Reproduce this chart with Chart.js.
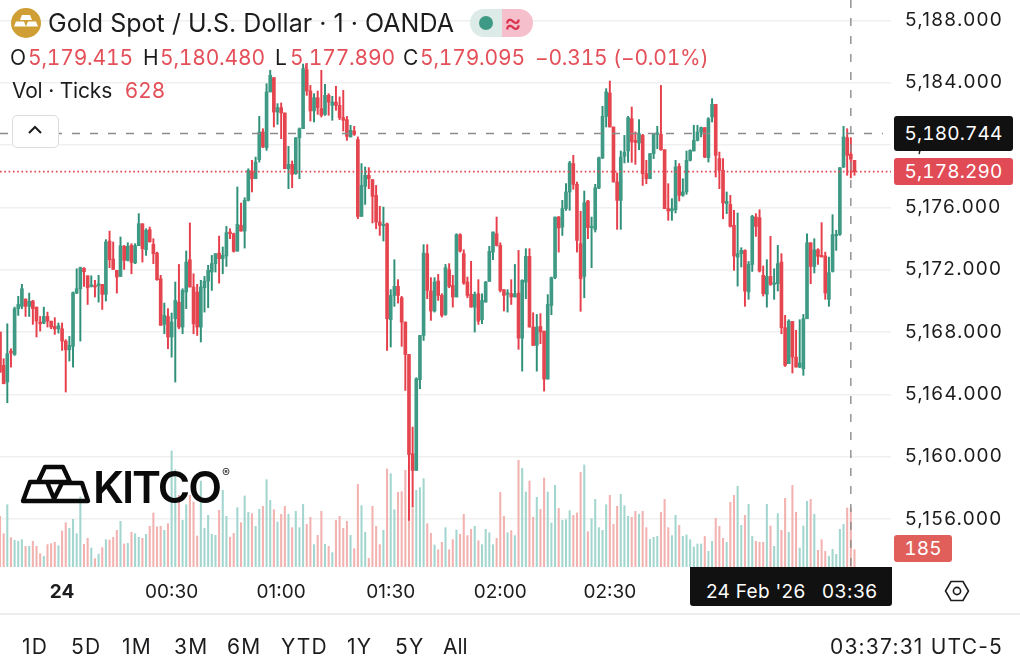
<!DOCTYPE html>
<html>
<head>
<meta charset="utf-8">
<title>Gold Spot / U.S. Dollar</title>
<script src="https://cdn.jsdelivr.net/npm/chart.js@4/dist/chart.umd.min.js"></script>
<style>
  html, body { margin: 0; padding: 0; background: #fff; }
  body { width: 1020px; height: 670px; overflow: hidden; position: relative; font-family: Inter, "Noto Sans", sans-serif; color: #1c1c1f; }
  canvas { position: absolute; left: 0; top: 0; }
  .t { position: absolute; white-space: nowrap; line-height: 1; }
  .ohlc { font-size: 21px; top: 47px; letter-spacing: -0.2px; font-variant-numeric: tabular-nums; }
  .red { color: #e4505a; }
  .pill { position: absolute; border-radius: 3px; color: #fff; font-size: 19px; letter-spacing: 0.2px; font-variant-numeric: tabular-nums; display: flex; align-items: center; justify-content: center; }
  svg { position: absolute; overflow: visible; }
  .range { position: absolute; top: 636px; font-size: 21px; line-height: 1; letter-spacing: 1.2px; }
</style>
</head>
<body>
<canvas id="chart" width="1020" height="670"></canvas>

<svg style="left:0;top:0" width="60" height="46">
  <circle cx="26" cy="23" r="15" fill="#cf9f35"/>
  <path d="M22 15h8l2 5h-12z M16 21.5h8l2 5h-12z M28 21.5h8l2 5h-12z" fill="#fff"/>
</svg>
<div class="t" style="left:48px;top:11px;font-size:25px;letter-spacing:0.03px">Gold Spot / U.S. Dollar · 1 · OANDA</div>
<div style="position:absolute;left:470px;top:9px;width:32px;height:28px;background:#dcebe7;border-radius:14px 0 0 14px"></div>
<div style="position:absolute;left:502px;top:9px;width:31px;height:28px;background:#f5c0cc;border-radius:0 14px 14px 0"></div>
<div style="position:absolute;left:479px;top:16px;width:14px;height:14px;background:#3f9a85;border-radius:50%"></div>
<div class="t" style="left:504px;top:9px;font-size:27px;color:#d8344e">≈</div>

<div class="t ohlc" style="left:10px">O</div>
<div class="t ohlc red" style="left:28px">5,179.415</div>
<div class="t ohlc" style="left:143px">H</div>
<div class="t ohlc red" style="left:160px">5,180.480</div>
<div class="t ohlc" style="left:275px">L</div>
<div class="t ohlc red" style="left:290px">5,177.890</div>
<div class="t ohlc" style="left:403px">C</div>
<div class="t ohlc red" style="left:420px">5,179.095</div>
<div class="t ohlc red" style="left:535px">−0.315 (−0.01%)</div>
<div class="t" style="left:12px;top:80px;font-size:21px;letter-spacing:-0.2px">Vol · Ticks</div>
<div class="t red" style="left:125px;top:80px;font-size:21px;letter-spacing:0.6px">628</div>

<div style="position:absolute;left:12px;top:115px;width:45px;height:31px;border:1px solid #dcdcdc;border-radius:5px;background:#fff"></div>
<svg style="left:28px;top:125px" width="16" height="10"><polyline points="1,8 7,2 13,8" fill="none" stroke="#1c1c1f" stroke-width="2"/></svg>

<svg style="left:0;top:0" width="240" height="520">
  <path d="M45 467H63L70 482H38Z M30 482H47L55 501H23Z M62 483H82L88 501H53Z" fill="none" stroke="#0a0a0a" stroke-width="4.4" stroke-linejoin="round"/>
</svg>
<div class="t" style="left:93px;top:465px;font-size:44px;font-weight:600;color:#0a0a0a;letter-spacing:-2px">KITCO</div>
<div class="t" style="left:222px;top:467px;font-size:12px;color:#222">®</div>

<div class="pill" style="left:894px;top:116px;width:119px;height:35px;background:#111">5,180.744</div>
<div class="pill" style="left:894px;top:158px;width:119px;height:27px;background:#e14b55">5,178.290</div>
<div class="pill" style="left:894px;top:535px;width:58px;height:27px;background:#e05f5b">185</div>

<div style="position:absolute;left:690px;top:567px;width:202px;height:39px;background:#111;border-radius:0 0 3px 3px"></div>
<div class="t" style="left:706px;top:582px;font-size:19px;color:#fff;letter-spacing:0.3px">24 Feb '26</div>
<div class="t" style="left:822px;top:582px;font-size:19px;color:#fff;letter-spacing:0.6px">03:36</div>

<svg style="left:945px;top:580px" width="24" height="22">
  <polygon points="6,1.5 18,1.5 23.5,11 18,20.5 6,20.5 0.5,11" fill="none" stroke="#1c1c1f" stroke-width="1.6"/>
  <circle cx="12" cy="11" r="3.6" fill="none" stroke="#1c1c1f" stroke-width="1.6"/>
</svg>

<div style="position:absolute;left:0;top:613px;width:1020px;height:2px;background:#ececec"></div>
<div class="range" style="left:22px">1D</div>
<div class="range" style="left:71px">5D</div>
<div class="range" style="left:122px">1M</div>
<div class="range" style="left:174px">3M</div>
<div class="range" style="left:227px">6M</div>
<div class="range" style="left:281px">YTD</div>
<div class="range" style="left:347px">1Y</div>
<div class="range" style="left:395px">5Y</div>
<div class="range" style="left:443px;letter-spacing:0">All</div>
<div class="range" style="left:830px">03:37:31 UTC-5</div>

<script>
// one candle per minute, minute 0 is 00:00 on the 24th
const firstMinute = -17;
const slotCount = 245;

const opens = [
  5168.00,5165.86,5164.79,5166.78,5166.56,5169.50,5169.65,5170.12,5169.65,5169.99,
  5169.60,5168.64,5168.58,5169.00,5168.70,5168.36,5168.21,5168.21,5167.42,5166.86,
  5167.08,5170.50,5170.78,5172.09,5171.61,5170.93,5170.97,5170.97,5171.06,5170.42,
  5173.84,5172.68,5171.96,5171.57,5173.50,5172.60,5173.56,5172.43,5173.54,5174.95,
  5173.28,5174.57,5173.63,5173.07,5171.42,5168.49,5169.00,5167.68,5168.85,5169.92,
  5168.32,5170.57,5172.64,5170.89,5170.57,5168.32,5170.84,5171.27,5171.85,5172.39,
  5173.07,5172.71,5172.88,5174.42,5174.31,5173.20,5174.85,5174.48,5176.45,5178.33,
  5177.84,5179.06,5180.84,5179.83,5183.41,5184.33,5182.12,5182.40,5182.06,5178.48,
  5178.76,5178.16,5180.47,5181.05,5184.84,5183.47,5182.19,5183.04,5182.34,5181.97,
  5183.19,5182.55,5182.76,5182.55,5181.76,5181.63,5180.52,5180.90,5180.35,5175.42,
  5177.35,5178.06,5177.78,5176.77,5175.06,5174.82,5174.95,5168.79,5170.35,5170.93,
  5170.20,5168.64,5166.56,5160.19,5159.12,5164.94,5167.78,5173.03,5170.63,5169.35,
  5171.27,5170.35,5169.13,5172.00,5170.99,5170.25,5174.25,5173.03,5171.21,5170.42,
  5169.60,5170.46,5168.79,5169.92,5171.25,5173.13,5174.31,5173.56,5170.72,5170.42,
  5170.46,5170.25,5170.50,5167.61,5171.21,5172.86,5168.32,5167.14,5168.36,5168.06,
  5164.98,5169.71,5171.49,5175.38,5174.74,5175.92,5176.99,5178.81,5177.48,5173.67,
  5171.57,5176.41,5174.70,5174.59,5177.24,5179.17,5181.84,5183.34,5181.16,5177.63,
  5176.45,5179.28,5179.62,5181.69,5180.30,5180.13,5180.62,5178.16,5177.84,5179.45,
  5180.69,5180.69,5179.70,5175.92,5175.77,5175.85,5178.63,5176.77,5176.99,5179.02,
  5179.62,5180.30,5180.84,5181.12,5179.19,5181.80,5182.61,5179.13,5178.38,5176.24,
  5176.19,5174.85,5172.81,5173.03,5173.24,5170.57,5172.34,5175.38,5175.34,5171.64,
  5170.42,5171.57,5171.06,5171.10,5172.49,5168.28,5165.97,5168.68,5166.39,5165.75,
  5165.64,5168.85,5173.73,5172.21,5173.28,5172.92,5172.88,5170.10,5171.89,5174.18,
  5174.27,5178.59,5180.47,5179.415,5179.02
];
const highs = [
  5168.00,5166.29,5168.53,5166.93,5169.60,5170.29,5171.06,5170.12,5170.50,5170.03,
  5169.60,5169.00,5169.60,5169.28,5168.70,5168.92,5168.58,5168.58,5167.51,5167.72,
  5170.57,5172.06,5172.17,5172.13,5171.61,5171.61,5171.32,5171.64,5171.06,5173.93,
  5174.48,5173.78,5171.96,5174.10,5173.56,5173.73,5173.67,5173.67,5175.60,5174.95,
  5174.63,5174.74,5173.99,5173.13,5171.64,5169.86,5169.50,5169.22,5171.21,5172.34,
  5170.78,5173.20,5175.00,5171.74,5171.06,5171.32,5171.57,5172.28,5172.92,5173.03,
  5174.16,5173.46,5174.78,5174.63,5174.35,5177.31,5176.28,5176.62,5178.48,5179.02,
  5179.23,5181.84,5181.05,5183.94,5184.80,5184.33,5182.66,5182.70,5182.06,5179.92,
  5178.98,5180.47,5181.10,5185.20,5185.23,5183.83,5183.30,5183.47,5184.80,5183.90,
  5183.30,5183.13,5183.77,5183.09,5183.51,5181.84,5181.27,5181.20,5180.52,5178.81,
  5178.59,5178.55,5177.78,5177.41,5176.07,5176.02,5175.00,5170.72,5172.64,5171.36,
  5170.29,5168.64,5166.56,5161.90,5165.07,5167.78,5173.61,5173.61,5171.49,5171.49,
  5171.70,5170.46,5172.34,5172.39,5171.64,5174.31,5174.31,5173.28,5171.53,5172.54,
  5170.57,5171.36,5170.46,5171.25,5173.50,5174.42,5175.38,5173.73,5170.72,5170.72,
  5171.36,5172.34,5173.24,5171.36,5173.35,5173.35,5169.24,5169.13,5169.18,5168.06,
  5170.40,5171.53,5175.38,5175.42,5176.45,5177.52,5178.96,5179.34,5177.63,5175.75,
  5177.05,5176.45,5175.38,5177.48,5179.23,5182.49,5183.62,5184.11,5181.16,5178.21,
  5179.62,5180.62,5181.84,5182.44,5180.84,5181.63,5180.69,5179.02,5179.45,5180.73,
  5181.20,5183.83,5179.70,5177.52,5176.56,5179.02,5178.81,5177.84,5179.62,5179.70,
  5181.27,5181.27,5181.16,5181.12,5181.76,5182.98,5182.61,5179.55,5179.13,5176.99,
  5176.77,5175.81,5175.64,5173.41,5173.28,5172.53,5175.49,5175.60,5175.85,5172.24,
  5172.64,5174.14,5172.06,5173.56,5173.03,5169.07,5168.79,5168.68,5168.11,5168.79,
  5169.13,5174.31,5173.73,5173.99,5173.35,5175.02,5173.13,5172.81,5175.53,5174.53,
  5178.55,5181.20,5181.05,5180.48,5179.02
];
const lows = [
  5165.43,5164.68,5163.46,5165.75,5166.50,5169.07,5169.50,5169.00,5169.00,5168.49,
  5167.68,5168.06,5168.53,5168.32,5168.21,5167.85,5167.93,5166.82,5164.15,5166.14,
  5165.75,5170.46,5167.42,5170.93,5169.77,5170.89,5170.25,5169.92,5169.45,5169.99,
  5172.13,5172.02,5170.50,5171.57,5172.02,5172.56,5171.74,5172.39,5173.54,5172.49,
  5172.92,5173.78,5172.39,5171.32,5168.43,5167.89,5166.93,5166.39,5164.79,5168.21,
  5167.89,5169.50,5170.89,5167.89,5167.78,5167.36,5169.28,5169.56,5170.67,5171.85,
  5171.14,5171.74,5172.21,5173.99,5173.13,5173.18,5174.48,5173.39,5176.41,5176.99,
  5177.84,5178.91,5179.83,5179.66,5183.41,5181.16,5181.33,5180.41,5178.48,5177.20,
  5177.26,5178.12,5177.84,5181.05,5183.19,5181.54,5181.48,5181.97,5181.80,5181.91,
  5181.91,5181.59,5182.23,5181.63,5180.90,5180.30,5180.52,5180.62,5175.27,5175.42,
  5176.19,5177.20,5175.00,5174.63,5174.20,5173.84,5166.82,5167.04,5169.65,5169.86,
  5167.08,5164.25,5155.91,5156.76,5159.12,5164.36,5167.46,5170.14,5168.75,5169.28,
  5170.03,5168.96,5169.07,5170.84,5169.60,5170.25,5173.13,5171.06,5170.20,5169.60,
  5168.00,5168.49,5168.53,5169.92,5171.25,5172.64,5173.52,5170.57,5169.35,5169.28,
  5169.77,5170.25,5166.89,5165.49,5170.14,5168.32,5167.14,5165.49,5167.25,5164.21,
  5164.98,5169.11,5171.42,5173.13,5174.20,5175.81,5175.81,5177.16,5173.13,5169.33,
  5170.20,5173.99,5172.13,5174.42,5177.20,5179.13,5181.16,5181.16,5177.63,5174.59,
  5174.59,5178.85,5178.89,5178.89,5178.76,5179.70,5177.41,5177.52,5177.84,5179.13,
  5179.77,5179.66,5175.92,5175.17,5175.17,5175.64,5176.41,5176.71,5176.84,5178.98,
  5179.62,5180.26,5180.52,5179.19,5178.91,5181.48,5177.95,5177.20,5175.27,5175.60,
  5174.74,5171.96,5170.95,5172.17,5169.65,5170.10,5171.89,5174.14,5171.85,5170.31,
  5169.60,5170.99,5170.10,5170.63,5167.89,5165.79,5165.97,5165.37,5165.75,5165.71,
  5165.22,5168.85,5171.10,5171.79,5172.34,5172.86,5170.10,5169.65,5171.85,5173.24,
  5174.20,5178.55,5178.06,5177.89,5178.06
];
const closes = [
  5165.43,5164.68,5166.61,5166.65,5169.50,5169.77,5170.78,5169.65,5169.97,5169.50,
  5168.70,5168.53,5169.00,5168.70,5168.32,5168.19,5168.40,5167.42,5166.86,5167.14,
  5170.53,5170.78,5172.13,5171.87,5170.84,5170.99,5170.89,5171.10,5170.42,5173.78,
  5172.64,5172.02,5171.53,5173.54,5172.60,5173.50,5172.47,5173.54,5174.95,5173.35,
  5174.53,5173.78,5173.03,5171.36,5168.43,5169.07,5167.68,5168.64,5170.03,5168.32,
  5170.67,5172.49,5170.89,5168.53,5168.32,5170.89,5171.27,5171.96,5172.39,5173.03,
  5172.71,5172.92,5174.38,5174.31,5173.18,5174.91,5174.48,5176.45,5178.38,5177.84,
  5178.91,5180.84,5179.88,5183.41,5184.48,5182.12,5182.40,5182.06,5178.48,5178.76,
  5178.12,5180.47,5181.05,5184.90,5183.47,5182.19,5183.04,5182.40,5181.91,5183.19,
  5182.76,5182.76,5182.55,5181.76,5181.59,5180.56,5180.95,5180.69,5175.42,5177.41,
  5178.06,5177.84,5176.71,5175.06,5174.85,5174.91,5168.85,5170.35,5170.93,5170.35,
  5168.64,5166.56,5160.14,5159.12,5165.00,5167.78,5173.07,5170.67,5169.35,5171.21,
  5170.35,5169.07,5172.13,5170.93,5170.25,5174.25,5173.20,5171.14,5170.35,5169.60,
  5170.42,5168.70,5170.03,5171.21,5173.18,5174.42,5173.56,5170.67,5170.35,5170.46,
  5170.25,5170.46,5167.61,5171.32,5172.86,5168.32,5167.14,5168.32,5168.00,5164.98,
  5169.77,5171.49,5175.38,5174.68,5175.92,5176.99,5178.85,5177.48,5173.88,5171.42,
  5176.30,5174.70,5174.74,5177.26,5179.19,5181.84,5183.41,5181.16,5177.63,5176.45,
  5179.23,5179.55,5181.76,5180.20,5180.17,5180.73,5178.16,5177.84,5179.45,5180.69,
  5180.77,5179.70,5175.92,5175.77,5175.92,5178.59,5176.77,5176.99,5179.02,5179.66,
  5180.30,5180.84,5181.12,5179.23,5181.69,5182.61,5179.34,5178.38,5176.28,5176.39,
  5174.78,5172.88,5173.03,5173.24,5170.63,5172.34,5175.42,5174.78,5171.91,5170.46,
  5171.57,5171.06,5171.14,5172.39,5168.28,5165.86,5168.70,5166.39,5165.75,5166.01,
  5168.85,5173.73,5172.21,5173.28,5172.86,5172.81,5170.50,5171.81,5174.25,5174.27,
  5178.55,5180.52,5179.34,5179.095,5178.29
];
const volumes = [
  539,355,663,312,284,273,291,220,220,273,
  220,142,114,238,248,263,227,383,472,412,
  507,355,745,241,305,202,89,138,206,291,
  287,316,390,486,245,252,369,355,316,305,
  348,433,575,426,433,390,461,1235,1036,763,
  497,663,763,692,330,915,412,550,348,337,
  603,816,539,316,358,632,472,756,582,568,
  433,614,646,930,710,610,479,561,646,561,
  419,593,419,667,454,529,238,337,593,241,
  220,153,497,539,412,486,337,195,880,653,
  369,92,646,433,238,390,1043,993,610,795,
  802,1029,639,621,816,844,940,461,358,234,
  184,263,419,184,291,394,348,561,334,401,
  433,280,238,401,365,238,305,795,539,365,
  387,334,1135,1050,798,915,529,742,614,947,
  798,468,869,624,497,504,600,550,575,1008,
  1086,376,514,720,419,390,663,763,454,646,
  773,653,539,529,593,561,593,419,294,316,
  326,582,720,419,334,550,443,326,341,291,
  213,245,245,326,167,273,518,433,305,263,
  688,763,859,443,550,667,326,273,263,263,
  667,436,220,568,390,731,369,869,582,202,
  436,699,720,561,177,291,167,114,188,135,
  401,454,628,628,185
];

const priceTicks = [5156, 5160, 5164, 5168, 5172, 5176, 5180, 5184, 5188];
const tickTimes = ["00:00", "00:30", "01:00", "01:30", "02:00", "02:30", "03:00", "03:30"];
const tickTexts = ["24", "00:30", "01:00", "01:30", "02:00", "02:30", "03:00", "03:30"];

const crosshairPrice = 5180.744;
const lastPrice = 5178.29;
const crosshairTime = "03:36";

const GREEN = "#3f9a85";
const GREEN_WICK = "#2f8f78";
const RED = "#e5454f";
const RED_WICK = "#e63f4b";
const GREEN_VOL = "#a3d6cf";
const RED_VOL = "#f2b2b0";

const pad = (n) => String(n).padStart(2, "0");
const minuteLabel = (m) => {
  const t = (m + 1440) % 1440;
  return `${pad(Math.floor(t / 60))}:${pad(t % 60)}`;
};
const categories = Array.from({ length: slotCount }, (_, i) => minuteLabel(firstMinute + i));

const isUp = (i) => closes[i] >= opens[i];
const wicks = highs.map((h, i) => [lows[i], h]);
const bodies = opens.map((o, i) => [Math.min(o, closes[i]), Math.max(o, closes[i])]);

const priceLines = {
  id: "priceLines",
  afterDatasetsDraw(chart) {
    const { ctx, chartArea, scales } = chart;
    const line = (x1, y1, x2, y2, color, width, dash) => {
      ctx.save();
      ctx.strokeStyle = color;
      ctx.lineWidth = width;
      ctx.setLineDash(dash);
      ctx.beginPath();
      ctx.moveTo(x1, y1);
      ctx.lineTo(x2, y2);
      ctx.stroke();
      ctx.restore();
    };
    const yLast = scales.y.getPixelForValue(lastPrice);
    line(chartArea.left, yLast, chartArea.right, yLast, "#e5454f", 1.8, [1.6, 2.7]);
    const yCross = scales.y.getPixelForValue(crosshairPrice);
    line(chartArea.left, yCross, chartArea.right - 8, yCross, "#8c8c8c", 1.4, [8, 10]);
    const xCross = scales.x.getPixelForValue(categories.indexOf(crosshairTime));
    line(xCross, chartArea.top, xCross, chartArea.bottom, "#8c8c8c", 1.4, [8, 10]);
    // the price labels are drawn after this hook (ticks.z below) and are spaced wider
    ctx.letterSpacing = "1.25px";
  }
};

new Chart(document.getElementById("chart"), {
  type: "bar",
  plugins: [priceLines],
  data: {
    labels: categories,
    datasets: [
      {
        label: "Body", data: bodies, yAxisID: "y", order: 1, barThickness: 3, minBarLength: 1.5,
        backgroundColor: opens.map((_, i) => (isUp(i) ? GREEN : RED))
      },
      {
        label: "Wick", data: wicks, yAxisID: "y", order: 2, barThickness: 1.3,
        backgroundColor: opens.map((_, i) => (isUp(i) ? GREEN_WICK : RED_WICK))
      },
      {
        label: "Ticks", data: volumes, yAxisID: "yVol", order: 3, barThickness: 1.4,
        backgroundColor: opens.map((_, i) => (isUp(i) ? GREEN_VOL : RED_VOL))
      }
    ]
  },
  options: {
    responsive: false,
    animation: false,
    datasets: { bar: { grouped: false } },
    layout: { padding: 0 },
    plugins: { legend: { display: false }, tooltip: { enabled: false } },
    scales: {
      x: {
        type: "category",
        offset: false,
        border: { display: false },
        grid: {
          drawTicks: false,
          lineWidth: 1.4,
          color: (c) => (tickTimes.includes(categories[c.index]) ? "#f0f0f0" : "rgba(0,0,0,0)")
        },
        ticks: {
          autoSkip: false,
          maxRotation: 0,
          minRotation: 0,
          padding: 14,
          color: "#1c1c1f",
          font: (c) => ({ family: "Inter", size: 19, weight: c.tick && c.tick.label === "24" ? "bold" : "normal" }),
          callback: (value, index) => {
            const at = tickTimes.indexOf(categories[index]);
            return at < 0 ? null : tickTexts[at];
          }
        },
        afterFit: (scale) => {
          scale.height = 103;
          scale.paddingLeft = 0;
          scale.paddingRight = 0;
        }
      },
      y: {
        position: "right",
        min: 5152.92,
        max: 5189.31,
        border: { display: false },
        grid: { color: "#f0f0f0", lineWidth: 1.4, drawTicks: false },
        afterBuildTicks: (scale) => {
          scale.ticks = priceTicks.map((value) => ({ value }));
        },
        ticks: {
          z: 1,
          padding: 14,
          color: "#1c1c1f",
          font: { family: "Inter", size: 19 },
          callback: (v) => v.toLocaleString("en-US", { minimumFractionDigits: 3 })
        },
        afterFit: (scale) => {
          scale.width = 129;
          scale.paddingTop = 0;
          scale.paddingBottom = 0;
        }
      },
      yVol: {
        display: false,
        min: 0,
        max: 6033
      }
    }
  }
});
</script>
</body>
</html>
